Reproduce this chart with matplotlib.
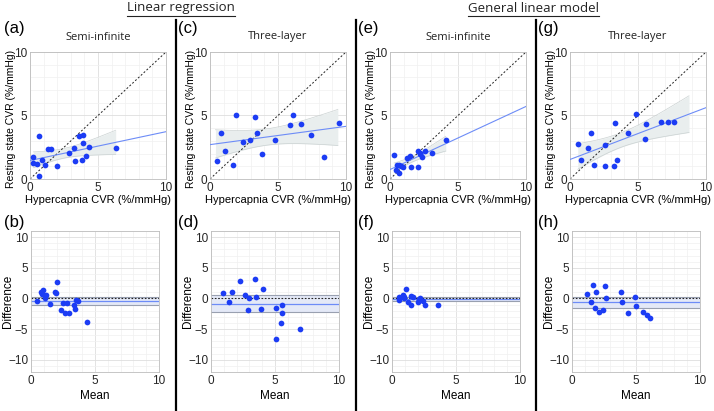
import numpy as np
import matplotlib
matplotlib.use("Agg")
import matplotlib.pyplot as plt
from matplotlib.lines import Line2D
from matplotlib.ticker import MultipleLocator

plt.rcParams['font.family'] = ['Liberation Sans', 'DejaVu Sans']

# CVR per subject (%/mmHg): hypercapnia vs resting state

# linear regression, semi-infinite (a, b)
LR_SEMI_HYPER = [0.25, 0.25, 0.50, 0.69, 0.90, 1.08, 0.69, 1.35, 1.55, 1.97,
                 2.87, 3.24, 3.29, 3.61, 3.93, 3.90, 3.86, 4.10, 4.32, 6.29]
LR_SEMI_REST = [1.70, 1.28, 1.18, 3.38, 1.50, 1.13, 0.24, 2.38, 2.38, 1.05,
                2.07, 2.46, 1.44, 3.40, 3.46, 2.85, 1.47, 1.78, 2.54, 2.46]

# linear regression, three-layer (c, d)
LR_3L_HYPER = [0.49, 0.80, 1.12, 1.71, 1.90, 2.41, 2.95, 3.32, 3.46, 3.80,
               4.76, 5.88, 6.12, 6.71, 7.44, 8.37, 9.46]
LR_3L_REST = [1.44, 3.66, 2.23, 1.10, 5.05, 2.91, 3.06, 4.87, 3.64, 1.96,
              3.09, 4.24, 5.00, 4.35, 3.46, 1.73, 4.40]

# general linear model, semi-infinite (e, f)
GLM_SEMI_HYPER = [0.32, 0.44, 0.52, 0.65, 0.69, 0.81, 0.93, 1.25, 1.50, 1.52,
                  2.04, 2.09, 2.20, 2.24, 2.36, 2.60, 3.12, 4.10]
GLM_SEMI_REST = [1.91, 0.71, 1.13, 1.08, 0.45, 1.05, 0.97, 1.68, 1.81, 0.97,
                 0.97, 2.23, 2.05, 1.94, 1.73, 2.20, 2.07, 3.06]

# general linear model, three-layer (g, h)
GLM_3L_HYPER = [0.57, 0.79, 1.33, 1.55, 1.77, 2.58, 2.60, 3.29, 3.24, 3.42,
                4.25, 4.82, 5.53, 5.58, 6.71, 7.22, 7.62]
GLM_3L_REST = [2.77, 1.52, 2.46, 3.64, 1.13, 2.67, 1.05, 4.42, 1.02, 1.47,
               3.59, 5.08, 3.17, 4.37, 4.45, 4.48, 4.50]

# x span of the shaded confidence band of each fit
BAND_RANGES = [(0.25, 6.3), (0.4, 9.4), (0.3, 4.1), (0.57, 8.75)]

GROUP_TITLES = ['Linear regression', 'General linear model']
MODEL_TITLES = ['Semi-infinite', 'Three-layer', 'Semi-infinite', 'Three-layer']
TOP_LABELS = ['(a)', '(c)', '(e)', '(g)']
BOTTOM_LABELS = ['(b)', '(d)', '(f)', '(h)']

# two-sided 95% t quantiles by degrees of freedom
T975 = {14: 2.145, 15: 2.131, 16: 2.120, 17: 2.110, 18: 2.101, 19: 2.093, 20: 2.086}

DOT_BLUE = '#1c3cf4'
FIT_BLUE = '#6d8cf7'
FIT_BAND = '#e9eeee'
FIT_BAND_EDGE = '#cbd2d2'
BA_BAND = '#e4e9f7'
BA_BAND_EDGE = '#99a0b0'

W, H = 714, 411
fig = plt.figure(figsize=(W / 100, H / 100), dpi=100)


def px_axes(left, top, right, bottom):
    return fig.add_axes([left / W, 1 - bottom / H, (right - left) / W, (bottom - top) / H])


def style(ax, ylim, yticks):
    ax.set_xlim(0, 10)
    ax.set_ylim(*ylim)
    ax.set_xticks([0, 5, 10])
    ax.set_yticks(yticks)
    ax.xaxis.set_minor_locator(MultipleLocator(1))
    ax.yaxis.set_minor_locator(MultipleLocator(1))
    ax.grid(which='major', color='#dedede', lw=0.6)
    ax.grid(which='minor', color='#f0f0f0', lw=0.5)
    ax.set_axisbelow(True)
    ax.tick_params(which='both', length=0, labelsize=8.5, pad=2, colors='#262626')
    for sp in ax.spines.values():
        sp.set_color('#bdbdbd')
        sp.set_linewidth(0.6)


def regression_panel(ax, hyper, rest, band_range):
    x = np.asarray(hyper)
    y = np.asarray(rest)
    n = len(x)
    slope, icpt = np.polyfit(x, y, 1)
    s = np.sqrt(np.sum((y - (icpt + slope * x)) ** 2) / (n - 2))
    xm = x.mean()
    sxx = np.sum((x - xm) ** 2)
    xb = np.linspace(band_range[0], band_range[1], 80)
    yb = icpt + slope * xb
    hw = T975[n - 2] * s * np.sqrt(1 / n + (xb - xm) ** 2 / sxx)
    ax.fill_between(xb, yb - hw, yb + hw, color=FIT_BAND, lw=0, zorder=1)
    ax.plot(xb, yb - hw, color=FIT_BAND_EDGE, lw=0.5, zorder=1.5)
    ax.plot(xb, yb + hw, color=FIT_BAND_EDGE, lw=0.5, zorder=1.5)
    xl = np.array([0, 10])
    ax.plot(xl, icpt + slope * xl, color=FIT_BLUE, lw=0.8, zorder=3)
    ax.plot([0, 10], [0, 10], color='#222222', ls=(0, (2, 2)), lw=0.7, zorder=2)
    ax.scatter(x, y, s=17, color=DOT_BLUE, linewidths=0, zorder=4)
    style(ax, (0, 10), [0, 5, 10])
    ax.set_xlabel('Hypercapnia CVR (%/mmHg)', fontsize=8)
    ax.set_ylabel('Resting state CVR (%/mmHg)', fontsize=7.5)
    ax.xaxis.set_label_coords(0.5, -0.125)
    ax.yaxis.set_label_coords(-0.105, 0.47)


def bland_altman_panel(ax, hyper, rest):
    x = np.asarray(hyper)
    y = np.asarray(rest)
    n = len(x)
    avg = (x + y) / 2
    diff = y - x
    md = diff.mean()
    ci = T975[n - 1] * diff.std(ddof=1) / np.sqrt(n)
    ax.axhspan(md - ci, md + ci, color=BA_BAND, lw=0, zorder=1)
    ax.axhline(md - ci, color=BA_BAND_EDGE, lw=0.8, zorder=1.5)
    ax.axhline(md + ci, color=BA_BAND_EDGE, lw=0.8, zorder=1.5)
    ax.axhline(md, color=FIT_BLUE, lw=0.9, zorder=2)
    ax.axhline(0, color='#222222', ls=(0, (1.5, 1.5)), lw=0.8, zorder=2)
    ax.scatter(avg, diff, s=17, color=DOT_BLUE, linewidths=0, zorder=4)
    style(ax, (-12, 11), [-10, -5, 0, 5, 10])
    ax.set_xlabel('Mean', fontsize=8.5)
    ax.set_ylabel('Difference', fontsize=8.5)
    ax.xaxis.set_label_coords(0.5, -0.13)
    ax.yaxis.set_label_coords(-0.13, 0.5)


hypers = [LR_SEMI_HYPER, LR_3L_HYPER, GLM_SEMI_HYPER, GLM_3L_HYPER]
rests = [LR_SEMI_REST, LR_3L_REST, GLM_SEMI_REST, GLM_3L_REST]

top_left = [30, 210, 390, 570]
bot_left = [31, 211, 392, 572]
label_x = [4, 178, 358, 538]

for i in range(4):
    ax = px_axes(top_left[i], 52, top_left[i] + 136, 179)
    regression_panel(ax, hypers[i], rests[i], BAND_RANGES[i])
    fig.text((top_left[i] + 68) / W, 1 - 37 / H, MODEL_TITLES[i], family='Open Sans',
             fontsize=8, ha='center', va='center', color='#222222')
    fig.text(label_x[i] / W, 1 - 28 / H, TOP_LABELS[i], fontsize=12, va='center', ha='left')

    ax = px_axes(bot_left[i], 231, bot_left[i] + 128, 372)
    bland_altman_panel(ax, hypers[i], rests[i])
    fig.text(label_x[i] / W, 1 - 222 / H, BOTTOM_LABELS[i], fontsize=12, va='center', ha='left')

# group separators
for xs in [176, 356, 536]:
    fig.add_artist(Line2D([xs / W, xs / W], [0, 1 - 20 / H], color='black', lw=1.6))

# underlined group headers
fig.canvas.draw()
renderer = fig.canvas.get_renderer()
for title, xc in zip(GROUP_TITLES, [181, 533]):
    t = fig.text(xc / W, 1 - 8 / H, title, family='Open Sans', fontsize=9.5,
                 ha='center', va='center', color='#222222')
    bb = t.get_window_extent(renderer).transformed(fig.transFigure.inverted())
    fig.add_artist(Line2D([bb.x0, bb.x1], [bb.y0 - 1.5 / H, bb.y0 - 1.5 / H],
                          color='#222222', lw=0.8))

fig.savefig('out.png', dpi=100)
